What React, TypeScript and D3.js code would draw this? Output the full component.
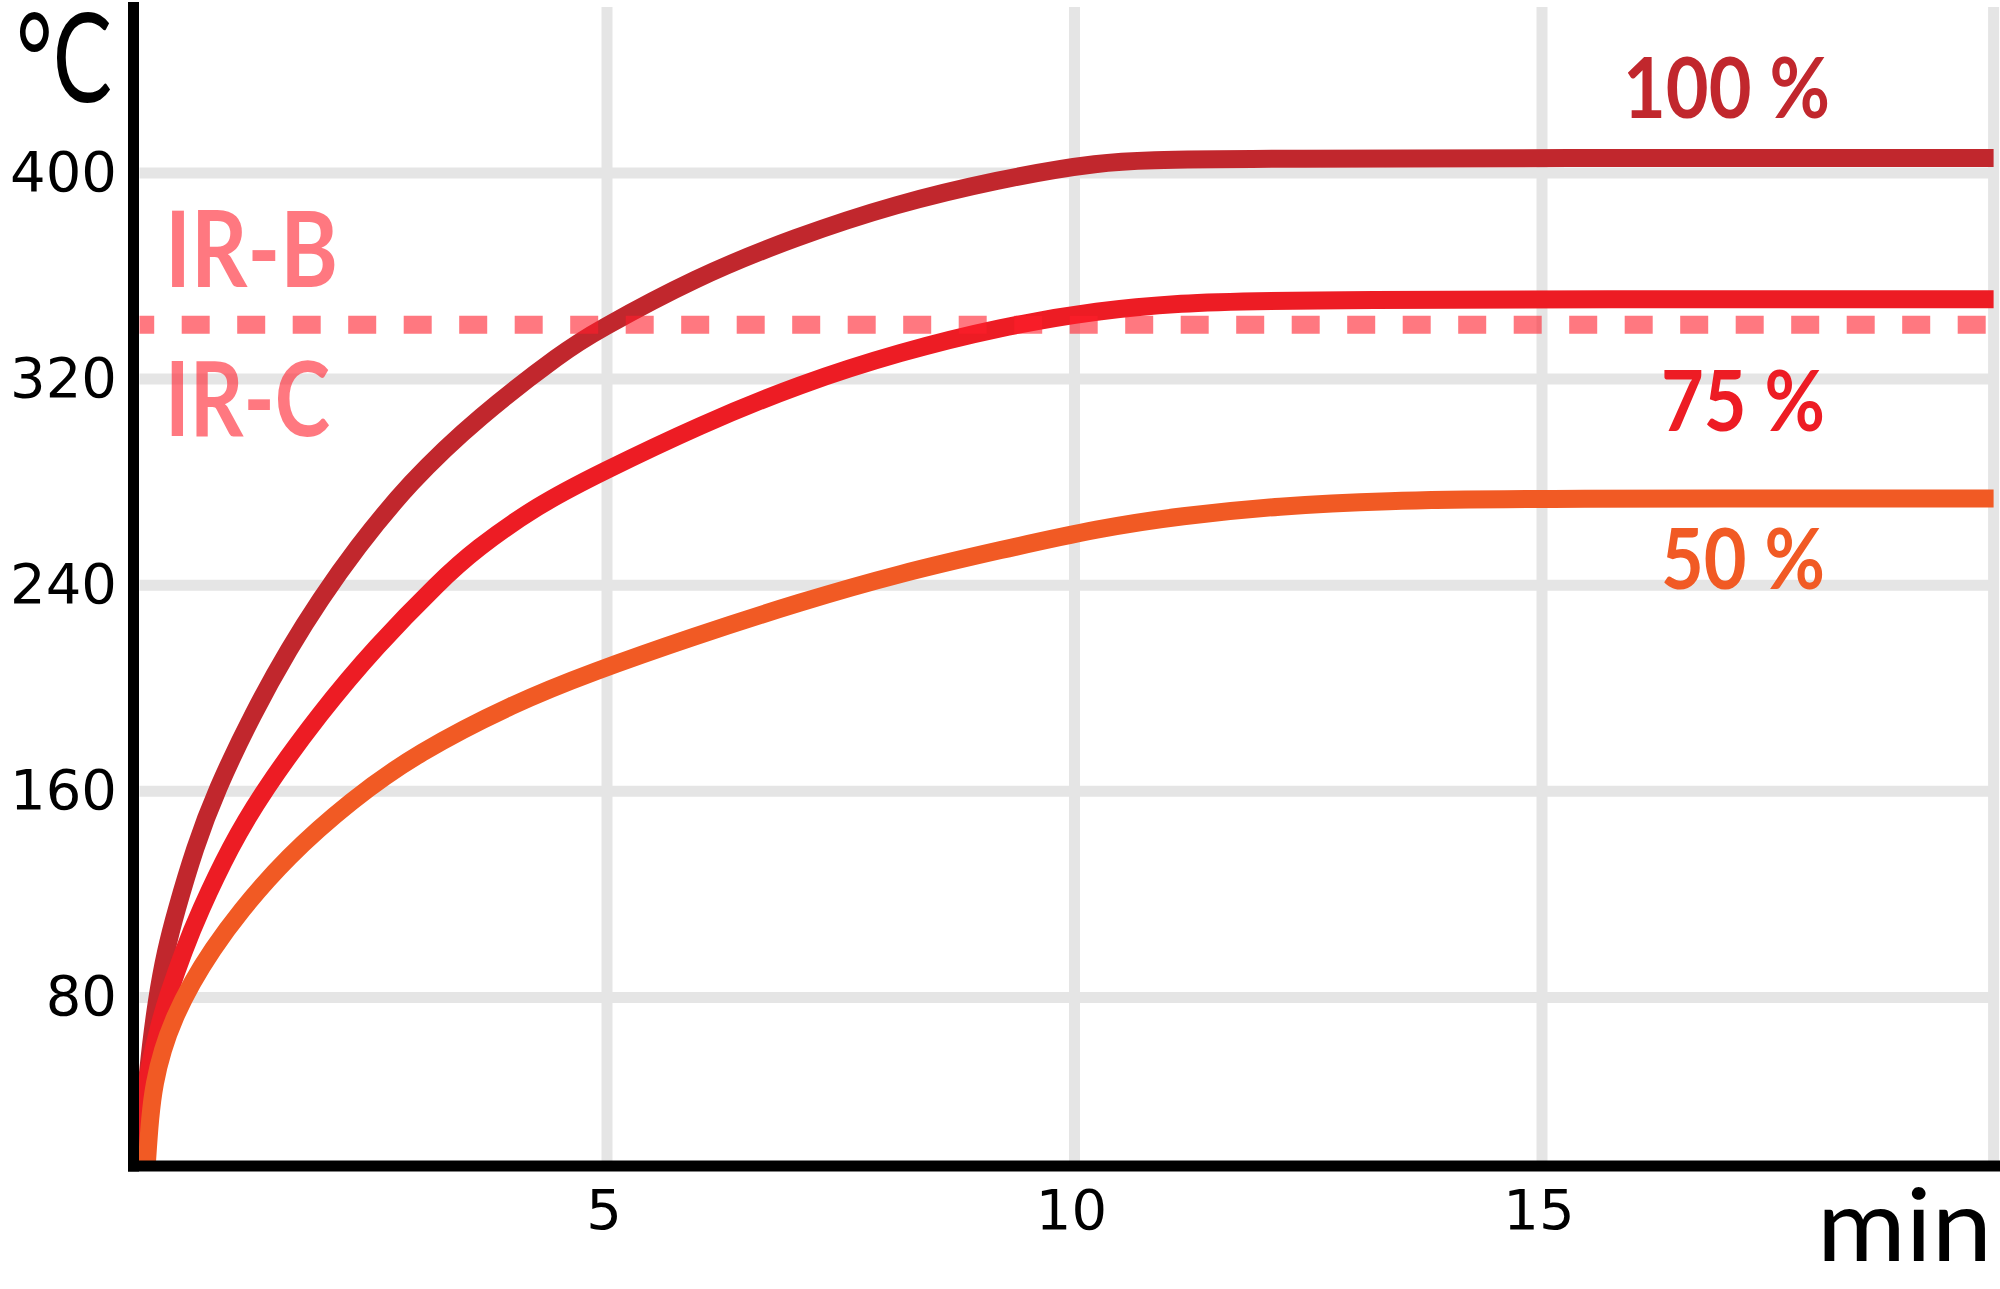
import React from "react";
import * as d3 from "d3";

// ---- data (minutes, °C) ----
const times100 = [0, 0.091, 0.187, 0.283, 0.385, 0.594, 0.818, 1.214, 1.61, 1.93, 2.31, 2.882, 3.62, 4.561, 4.85, 5.952, 7.021, 8.091, 9.17, 10.24, 11.16, 19.83];
const temps100 = [14.6, 53.0, 80.2, 98.4, 112.8, 138.4, 160.1, 190.4, 216.0, 234.3, 254.0, 279.7, 305.3, 331.3, 337.9, 359.6, 375.2, 388.0, 397.3, 404.3, 405.8, 405.8];

const times75 = [0, 0.032, 0.102, 0.235, 0.299, 0.476, 0.636, 0.968, 1.321, 1.93, 2.523, 3.225, 3.584, 4.258, 4.925, 5.995, 7.064, 8.134, 9.203, 10.273, 11.128, 12.07, 19.83];
const temps75 = [14.6, 36.3, 53.0, 72.4, 80.2, 98.4, 112.8, 138.4, 160.1, 190.4, 216.0, 242.0, 253.7, 271.1, 283.6, 302.2, 318.1, 330.5, 340.2, 346.8, 349.4, 351.0, 351.0];

const times50 = [0.077, 0.112, 0.159, 0.244, 0.374, 0.556, 0.775, 1.06, 1.575, 2.264, 2.968, 4.011, 4.84, 5.907, 7.067, 8.153, 9.211, 10.27, 11.128, 12.198, 13.267, 14.914, 19.83];
const temps50 = [14.6, 33.6, 46.8, 59.6, 72.4, 85.6, 98.4, 112.8, 134.5, 156.6, 174.9, 194.3, 206.3, 219.9, 233.5, 244.8, 253.7, 262.2, 266.9, 270.8, 272.8, 273.7, 273.7];

const irThreshold = 341.1; // IR-B / IR-C boundary
const yTicks = [80, 160, 240, 320, 400];
const xTicks = [5, 10, 15];
const seriesLabels = ["100 %", "75 %", "50 %"];
const seriesColors = ["#c1272d", "#ed1c24", "#f15a24"];

const X_MIN = 0, X_MAX = 19.83;
const Y_MIN = 14.6, Y_MAX = 466;

export default function App() {
  const W = 2000, H = 1289;
  const x = d3.scaleLinear().domain([X_MIN, X_MAX]).range([139.5, 1993.6]);
  const y = d3.scaleLinear().domain([Y_MIN, Y_MAX]).range([1166, 2.9]);

  const line = d3
    .line<[number, number]>()
    .x((d) => x(d[0]))
    .y((d) => y(d[1]))
    .curve(d3.curveBasis);

  const series = [
    { t: times100, v: temps100 },
    { t: times75, v: temps75 },
    { t: times50, v: temps50 },
  ].map((s) => s.t.map((t, i) => [t, s.v[i]] as [number, number]));

  const grid = "#e5e5e5";
  const gw = 11;
  const pink = "#ff1e2b";
  const pinkOp = 0.6;
  const calibri = "Lato, 'Open Sans', sans-serif";
  const tickFont = "'DejaVu Sans', Verdana, sans-serif";

  const xRight = x(X_MAX);

  return (
    <svg
      width={W}
      height={H}
      viewBox={`0 0 ${W} ${H}`}
      style={{ position: "absolute", left: 0, top: 0, display: "block", background: "#fff" }}
    >
      <rect x={0} y={0} width={W} height={H} fill="#fff" />
      {/* horizontal gridlines */}
      {yTicks.map((v) => (
        <line key={"h" + v} x1={x(0)} x2={xRight + 5} y1={y(v)} y2={y(v)} stroke={grid} strokeWidth={gw} />
      ))}
      {/* vertical gridlines */}
      {[...xTicks, X_MAX].map((t) => (
        <line key={"v" + t} x1={x(t)} x2={x(t)} y1={7} y2={y(Y_MIN)} stroke={grid} strokeWidth={gw} />
      ))}

      {/* curves */}
      {series.map((pts, i) => (
        <path key={"s" + i} d={line(pts) || ""} fill="none" stroke={seriesColors[i]} strokeWidth={18} strokeLinecap="butt" />
      ))}

      {/* IR-B / IR-C dashed boundary */}
      <line
        x1={x(0)}
        x2={xRight}
        y1={y(irThreshold)}
        y2={y(irThreshold)}
        stroke={pink}
        strokeOpacity={pinkOp}
        strokeWidth={18}
        strokeDasharray="28 27.5"
        strokeDashoffset={13.3}
      />
      <text x={165} y={y(355.7)} fontFamily={calibri} fontWeight={700} fontSize={106} fill={pink} fillOpacity={pinkOp} textLength={173} lengthAdjust="spacingAndGlyphs">
        IR-B
      </text>
      <text x={165} y={y(297.9)} fontFamily={calibri} fontWeight={700} fontSize={104} fill={pink} fillOpacity={pinkOp} textLength={165} lengthAdjust="spacingAndGlyphs">
        IR-C
      </text>

      {/* series labels */}
      <text x={1623} y={y(421.3)} fontFamily={calibri} fontWeight={700} fontSize={84} fill={seriesColors[0]} textLength={207} lengthAdjust="spacingAndGlyphs">
        {seriesLabels[0]}
      </text>
      <text x={1661} y={y(299.9)} fontFamily={calibri} fontWeight={700} fontSize={85} fill={seriesColors[1]} textLength={164} lengthAdjust="spacingAndGlyphs">
        {seriesLabels[1]}
      </text>
      <text x={1661} y={y(238.5)} fontFamily={calibri} fontWeight={700} fontSize={85} fill={seriesColors[2]} textLength={164} lengthAdjust="spacingAndGlyphs">
        {seriesLabels[2]}
      </text>

      {/* y tick labels */}
      {yTicks.map((v) => (
        <text key={"yl" + v} x={117} y={y(v) + 18} textAnchor="end" fontFamily={tickFont} fontSize={56} fill="#000">
          {v}
        </text>
      ))}
      {/* x tick labels */}
      {xTicks.map((t) => (
        <text key={"xl" + t} x={x(t) - 3} y={1229} textAnchor="middle" fontFamily={tickFont} fontSize={56} fill="#000">
          {t}
        </text>
      ))}

      {/* axis titles */}
      <text x={16} y={102} fontFamily={calibri} fontSize={124} fill="#000" textLength={96} lengthAdjust="spacingAndGlyphs">
        °C
      </text>
      <text x={1817} y={1261} fontFamily={calibri} fontSize={100} fill="#000" textLength={175} lengthAdjust="spacingAndGlyphs">
        min
      </text>

      {/* axes */}
      <line x1={133.5} x2={133.5} y1={2} y2={1171.5} stroke="#000" strokeWidth={11} />
      <line x1={128} x2={2000} y1={1166} y2={1166} stroke="#000" strokeWidth={11} />
    </svg>
  );
}
